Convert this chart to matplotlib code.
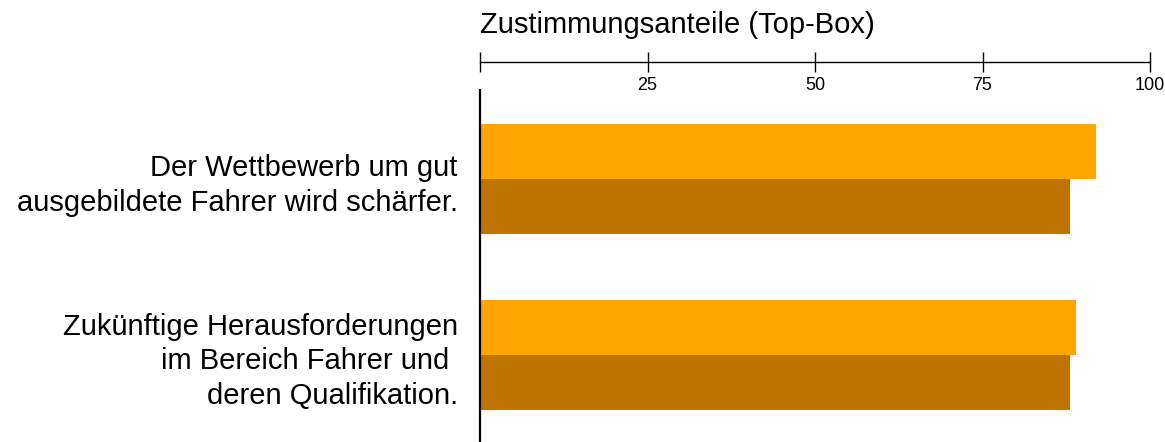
import numpy as np
import matplotlib.pyplot as plt

plt.rcParams['font.family'] = ['Liberation Sans', 'DejaVu Sans']

categories = ["Der Wettbewerb um gut\nausgebildete Fahrer wird schärfer.",
              "Zukünftige Herausforderungen\nim Bereich Fahrer und \nderen Qualifikation."]
series_a = [92, 89]   # hellorange
series_b = [88, 88]   # dunkelorange
ticks = [0, 25, 50, 75, 100]
tick_labels = ["", "25", "50", "75", "100"]

fig = plt.figure(figsize=(11.65, 4.42), dpi=100)
ax = fig.add_axes([480/1165, 0, 670/1165, 352/442])

y = np.arange(len(categories))
h = 0.3125
ax.barh(y - h/2, series_a, height=h, color='#FFA500')
ax.barh(y + h/2, series_b, height=h, color='#C07400')

ax.set_xlim(0, 100)
ax.set_ylim(1.494, -0.506)

ax.spines['right'].set_visible(False)
ax.spines['bottom'].set_visible(False)
ax.spines['left'].set_linewidth(1.6)
ax.spines['top'].set_linewidth(1.0)
ax.spines['top'].set_position(('outward', 20))

ax.xaxis.set_ticks_position('top')
ax.set_xticks(ticks)
ax.set_xticklabels(tick_labels, fontsize=13)
ax.tick_params(axis='x', direction='inout', length=14, width=1, pad=-30)

ax.set_yticks(y)
ax.set_yticklabels(categories, fontsize=21, linespacing=1.3)
ax.tick_params(axis='y', length=0, pad=16)

fig.text(480/1165, 1 - 25/442, "Zustimmungsanteile (Top-Box)", fontsize=21,
         ha='left', va='center')

fig.savefig('out.png', dpi=100)
